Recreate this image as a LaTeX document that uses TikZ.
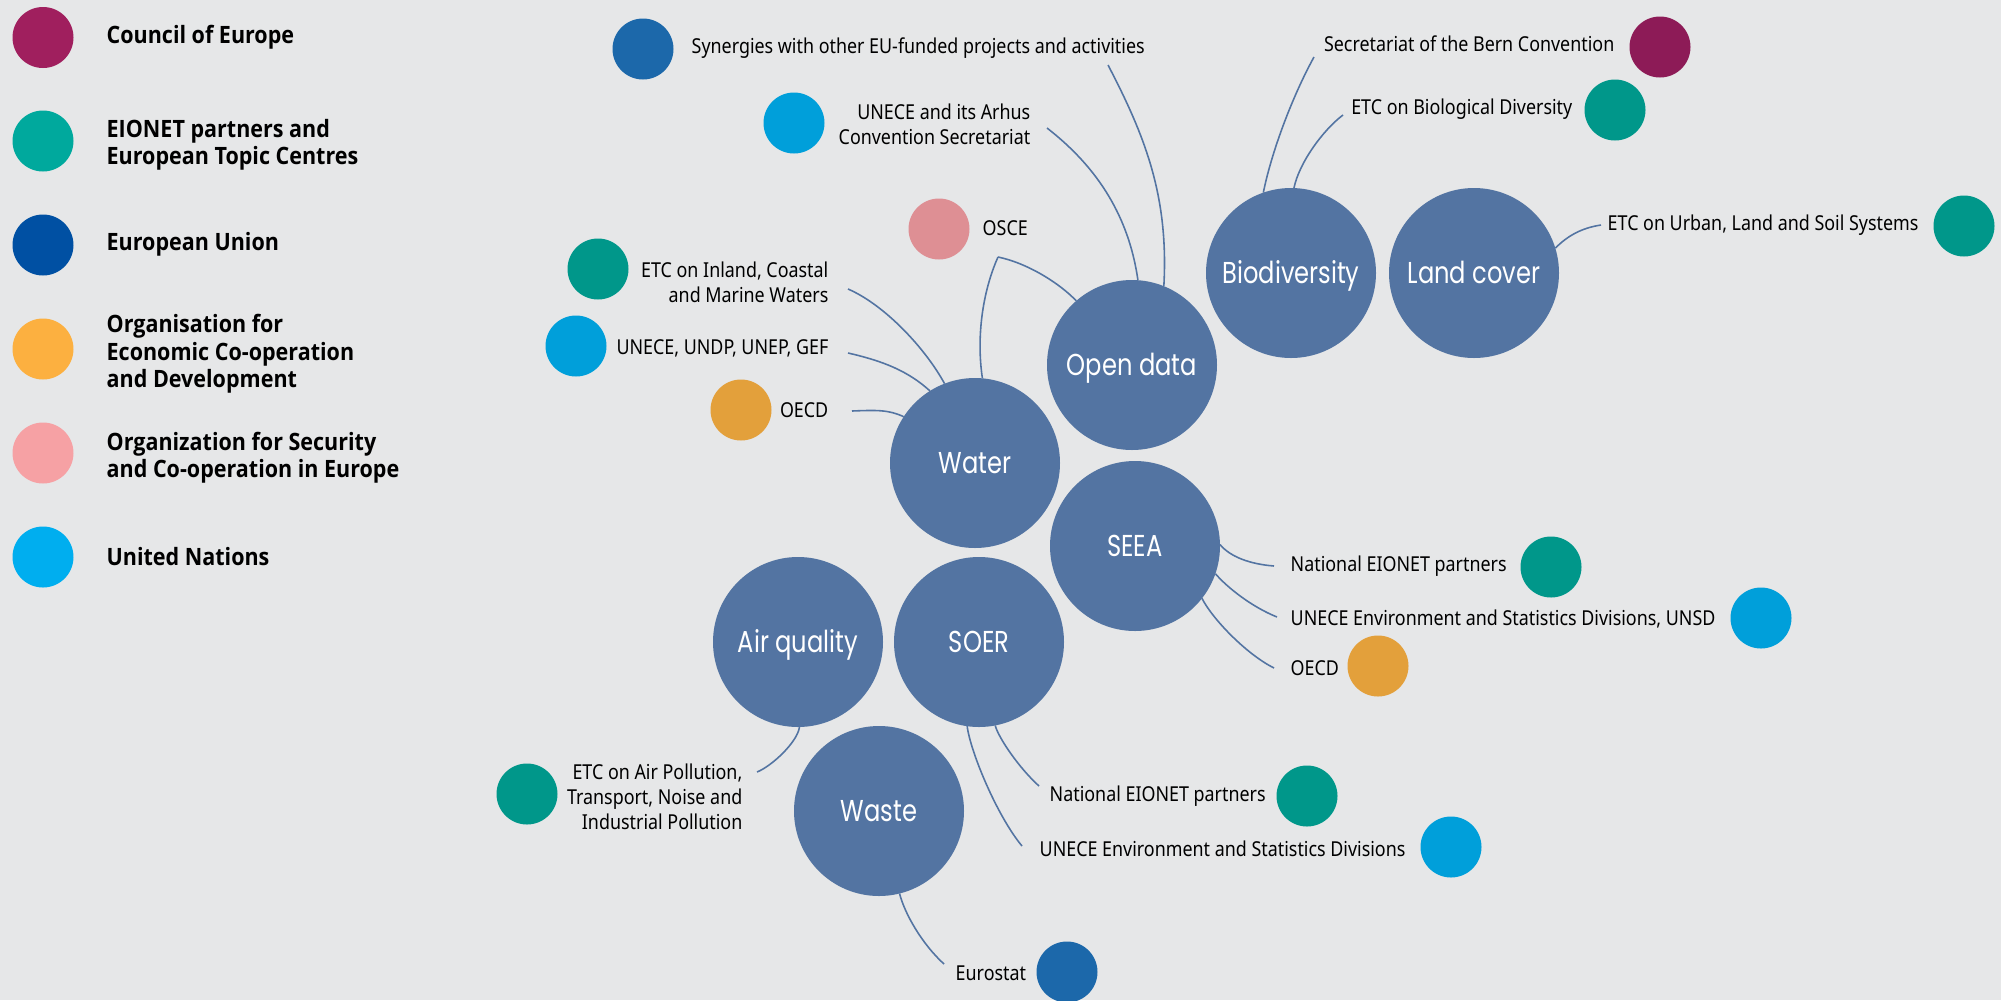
\documentclass[tikz,border=0pt]{standalone}
\usepackage{fontspec}
\newfontfamily\labelfont[FakeStretch=0.87]{Noto Sans}
\newfontfamily\legendfont[FakeStretch=0.9]{Open Sans}
\newfontfamily\topicfont[FakeStretch=0.8]{Poppins}

\definecolor{paper}{HTML}{E6E7E8}
\definecolor{topic blue}{HTML}{5374A2}
% colours of the partners in the picture
\definecolor{coe}{HTML}{8D1B57}
\definecolor{eionet}{HTML}{00978A}
\definecolor{eu}{HTML}{1C68AA}
\definecolor{oecd}{HTML}{E3A03B}
\definecolor{osce}{HTML}{DE8F94}
\definecolor{un}{HTML}{009FDA}
% colours of the legend
\definecolor{legend coe}{HTML}{A01F5E}
\definecolor{legend eionet}{HTML}{00A99D}
\definecolor{legend eu}{HTML}{0050A3}
\definecolor{legend oecd}{HTML}{FCB040}
\definecolor{legend osce}{HTML}{F6A1A4}
\definecolor{legend un}{HTML}{00AEEF}
\colorlet{link line}{topic blue}

\tikzset{
  topic/.style={circle, fill=topic blue, minimum size=17mm, inner sep=0pt, outer sep=0pt, text height=2.15mm, text depth=0pt, text=white, font=\topicfont\fontsize{8.6}{10}\selectfont},
  partner/.style={circle, minimum size=6.1mm, inner sep=0pt, outer sep=0pt}
  }
\tikzstyle{link} = [draw, link line, line width=0.45pt]
\tikzstyle{left label} = [anchor=east, align=right, inner sep=0pt, font=\labelfont\fontsize{5.85}{7.1}\selectfont]
\tikzstyle{right label} = [anchor=west, align=left, inner sep=0pt, font=\labelfont\fontsize{5.85}{7.1}\selectfont]
\tikzstyle{legend text} = [anchor=west, align=left, inner sep=0pt, font=\legendfont\fontsize{6.8}{7.8}\selectfont\bfseries]

\begin{document}
\begin{tikzpicture}[x=0.1mm, y=-0.1mm]
    \useasboundingbox (0,0) rectangle (2001,1000);
    \fill[paper] (0,0) rectangle (2001,1000);

    % The legend
    \foreach \y/\name/\col in {37.5/coe/legend coe, 141/eionet/legend eionet, 245/eu/legend eu, 349/oecd/legend oecd, 453/osce/legend osce, 557/un/legend un} {
      \node[partner, fill=\col] (key-\name) at (43,\y) {};
    }
    \foreach \y/\name/\txt in {{37.5/coe/Council of Europe}, {145/eionet/EIONET partners and\\European Topic Centres}, {244/eu/European Union}, {354/oecd/Organisation for\\Economic Co-operation\\and Development}, {458/osce/Organization for Security\\and Co-operation in Europe}, {557/un/United Nations}} {
      \node[legend text] (key-\name-txt) at (106,\y) {\txt};
    }

    % The topics
    \foreach \pos/\name/\txt in {{(1132,365)/open/Open data}, {(975,463)/water/Water}, {(1291,273)/bio/Biodiversity}, {(1474,273)/land/Land cover}, {(1135,546)/seea/SEEA}, {(979,642)/soer/SOER}, {(798,642)/air/Air quality}, {(879,811)/waste/Waste}} {
      \node[topic] (\name) at \pos {\txt};
    }

    % the partners
    \foreach \pos/\name/\col in {{(643,49)/syn/eu}, {(794,123)/arhus/un}, {(939,229)/osce/osce}, {(598,269)/inland/eionet}, {(576,346)/undp/un}, {(741,410)/oecd-water/oecd}, {(1660,47)/bern/coe}, {(1615,110)/etc-bio/eionet}, {(1964,226)/urban/eionet}, {(1551,567)/seea-eionet/eionet}, {(1761,618)/seea-un/un}, {(1378,666)/seea-oecd/oecd}, {(1307,796)/soer-eionet/eionet}, {(1451,847)/soer-un/un}, {(527,794)/air-etc/eionet}, {(1067,972)/eurostat/eu}} {
      \node[partner, fill=\col] (\name) at \pos {};
    }

    % their names
    \foreach \pos/\name/\side/\txt in {
      {(691,48)/syn-txt/right label/Synergies with other EU-funded projects and activities},
      {(1031,124)/arhus-txt/left label/UNECE and its Arhus\\Convention Secretariat},
      {(982,228)/osce-txt/right label/OSCE},
      {(829,282)/inland-txt/left label/ETC on Inland, Coastal\\and Marine Waters},
      {(829,348)/undp-txt/left label/UNECE, UNDP, UNEP, GEF},
      {(829,410)/oecd-water-txt/left label/OECD},
      {(1615,44)/bern-txt/left label/Secretariat of the Bern Convention},
      {(1573,109)/etc-bio-txt/left label/ETC on Biological Diversity},
      {(1607,225)/urban-txt/right label/ETC on Urban, Land and Soil Systems},
      {(1290,566)/seea-eionet-txt/right label/National EIONET partners},
      {(1290,619)/seea-un-txt/right label/UNECE Environment and Statistics Divisions, UNSD},
      {(1290,668)/seea-oecd-txt/right label/OECD},
      {(1049,796)/soer-eionet-txt/right label/National EIONET partners},
      {(1039,849)/soer-un-txt/right label/UNECE Environment and Statistics Divisions},
      {(743,797)/air-etc-txt/left label/ETC on Air Pollution,\\Transport, Noise and\\Industrial Pollution},
      {(955,973)/eurostat-txt/right label/Eurostat}} {
      \node[\side] (\name) at \pos {\txt};
    }

    % the loose ends of the connections
    \foreach \pos/\name in {{(1108,65)/syn-end}, {(1047,128)/arhus-end}, {(998,257)/osce-joint}, {(848,289)/inland-end}, {(848,353)/undp-end}, {(852,411)/oecd-water-end}, {(1314,57)/bern-end}, {(1343,115)/etc-bio-end}, {(1601,225)/urban-end}, {(1274,566)/seea-eionet-end}, {(1277,617)/seea-un-end}, {(1274,668)/seea-oecd-end}, {(1039,786)/soer-eionet-end}, {(1022,846)/soer-un-end}, {(757,772)/air-etc-end}, {(944,964)/eurostat-end}} {
      \node[coordinate] (\name) at \pos {};
    }

    % The connections between them
    \foreach \source/\sink/\ax/\ay/\bx/\by in {syn-end/open.68/37/71/5/-90, arhus-end/open.86/45/35/-10/-70, osce-joint/water.85/-16/36/-6/-40, osce-joint/open.131/29/6/-17/-18, inland-end/water.111/37/16/-19/-35, undp-end/water.122/35/8/-22/-20, oecd-water-end/water.147/25/-1/-15/-7, bern-end/bio.109/-22/40/8/-40, etc-bio-end/bio.88/-20/15/5/-25, urban-end/land.17/-20/3/12/-12, seea-eionet-end/seea.1/-25/-2/10/12, seea-un-end/seea.341/-25/-10/12/14, seea-oecd-end/seea.322/-28/-14/10/20, soer-eionet-end/soer.281/-20/-18/3/12, soer-un-end/soer.262/-25/-30/3/25, air-etc-end/air.271/15/-6/-2/15, eurostat-end/waste.284/-22/-20/5/20} {
      \path[link] (\source) .. controls +(\ax,\ay) and +(\bx,\by) .. (\sink);
    }

\end{tikzpicture}
\end{document}
